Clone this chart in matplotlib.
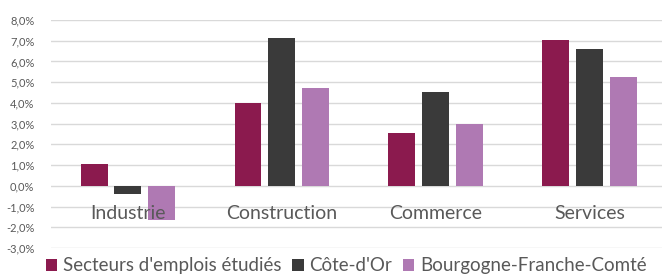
import matplotlib.pyplot as plt
import matplotlib.transforms as mtransforms
import numpy as np

categories = ['Industrie', 'Construction', 'Commerce', 'Services']
series_names = ["Secteurs d'emplois étudiés", "Côte-d'Or", 'Bourgogne-Franche-Comté']
secteurs = [1.05, 4.0, 2.55, 7.05]
cote_dor = [-0.4, 7.15, 4.55, 6.6]
bfc = [-1.65, 4.72, 2.98, 5.25]
yticks = [-3, -2, -1, 0, 1, 2, 3, 4, 5, 6, 7, 8]

colors = ['#8B1A4E', '#3A3A3A', '#AF79B3']

plt.rcParams['font.family'] = ['Lato', 'DejaVu Sans']

fig = plt.figure(figsize=(6.62, 2.8), dpi=100)
ax = fig.add_axes([51 / 662, 32 / 280, 611 / 662, 228 / 280])

x = np.arange(len(categories))
width = 0.175
step = 0.22
for k, (vals, name, c) in enumerate(zip([secteurs, cote_dor, bfc], series_names, colors)):
    ax.bar(x + (k - 1) * step, vals, width, color=c, label=name, zorder=2)

ax.set_ylim(-3, 8)
ax.set_xlim(-0.5, 3.47)
ax.set_yticks(yticks)
ax.set_yticklabels([f'{v:.1f}%'.replace('.', ',') for v in yticks], fontsize=8, color='#595959')
ax.yaxis.grid(True, color='#D9D9D9', linewidth=1, zorder=0)
ax.tick_params(axis='y', length=0, pad=12)
ax.set_xticks([])
for s in ax.spines.values():
    s.set_visible(False)

offset = mtransforms.ScaledTranslation(0, -28 / 100, fig.dpi_scale_trans)
for i, cat in enumerate(categories):
    ax.text(i, 0, cat, transform=ax.transData + offset, ha='center', va='center',
            fontsize=14, color='#595959', zorder=3)

fig.legend(loc='lower center', bbox_to_anchor=(0.523, -0.04), ncol=3, frameon=False,
           fontsize=13.5, labelcolor='#595959', handlelength=0.6, handleheight=0.6,
           handletextpad=0.3, columnspacing=0.6)

fig.savefig('out.png', dpi=100)
